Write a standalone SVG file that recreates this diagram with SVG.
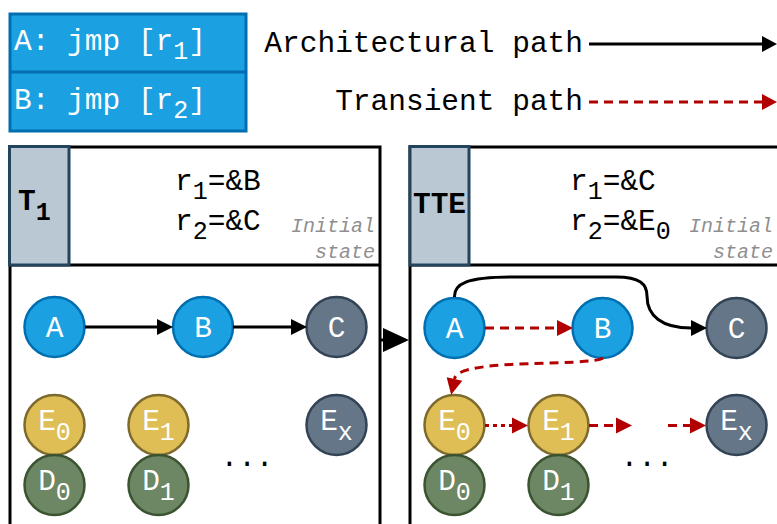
<svg xmlns="http://www.w3.org/2000/svg" width="777" height="524" viewBox="0 0 777 524">
  <style>
    text { font-family: "Liberation Mono", "Courier New", monospace; }
    .lbl { font-size: 29.5px; fill: #000; }
    .wht { font-size: 29.5px; fill: #fff; text-anchor: middle; }
    .note { font-size: 20px; font-style: italic; fill: #8f8f8f; text-anchor: end; }
    .bold { font-weight: bold; font-size: 29.5px; fill: #000; }
    .panel { fill: #fff; stroke: #000; stroke-width: 3; }
    .tag { fill: #bac8d3; stroke: #23445d; stroke-width: 3; }
    .blue { fill: #1ba1e2; stroke: #006eaf; stroke-width: 2.5; }
    .grey { fill: #647687; stroke: #314354; stroke-width: 2.5; }
    .gold { fill: #dfbe56; stroke: #7d6a2e; stroke-width: 2.5; }
    .green { fill: #6d8764; stroke: #3a5431; stroke-width: 2.5; }
    .arch { fill: none; stroke: #000; stroke-width: 3; }
    .trans { fill: none; stroke: #b20000; stroke-width: 3; stroke-dasharray: 9 6; }
    .dotted { fill: none; stroke: #b20000; stroke-width: 3; stroke-dasharray: 4 4; }
  </style>
  <defs>
    <marker id="ahBlack" markerUnits="userSpaceOnUse" markerWidth="16" markerHeight="16" refX="0" refY="8" orient="auto" overflow="visible">
      <path d="M0,0 L16,8 L0,16 Z" fill="#000"/>
    </marker>
    <marker id="ahRed" markerUnits="userSpaceOnUse" markerWidth="16" markerHeight="16" refX="0" refY="8" orient="auto" overflow="visible">
      <path d="M0,0 L16,8 L0,16 Z" fill="#b20000"/>
    </marker>
  </defs>

  <!-- instruction table -->
  <g id="code">
    <rect x="10" y="14" width="236" height="117" fill="#1ba1e2" stroke="#006eaf" stroke-width="3"/>
    <line x1="10" y1="72" x2="246" y2="72" stroke="#006eaf" stroke-width="3"/>
    <text x="14" y="50" class="lbl" style="fill:#fff">A: jmp [r<tspan font-size="25" dy="9">1</tspan><tspan dy="-9">]</tspan></text>
    <text x="14" y="109" class="lbl" style="fill:#fff">B: jmp [r<tspan font-size="25" dy="9">2</tspan><tspan dy="-9">]</tspan></text>
  </g>

  <!-- legend -->
  <g id="legend">
    <text x="583" y="52" class="lbl" text-anchor="end">Architectural path</text>
    <text x="583" y="110" class="lbl" text-anchor="end">Transient path</text>
    <line x1="589" y1="44" x2="762" y2="44" class="arch"/>
    <path d="M762,36 L777,44 L762,52 Z" fill="#000"/>
    <line x1="589" y1="102" x2="762" y2="102" class="trans"/>
    <path d="M762,94 L777,102 L762,110 Z" fill="#b20000"/>
  </g>

  <!-- panel T1 -->
  <g id="panel-t1">
    <rect x="10" y="147" width="370" height="420" class="panel"/>
    <line x1="10" y1="265" x2="380" y2="265" stroke="#000" stroke-width="3"/>
    <rect x="9.5" y="146.5" width="59.5" height="118.5" class="tag"/>
    <text x="18" y="210" class="bold" font-size="28">T<tspan font-size="25" dy="10">1</tspan></text>
    <text x="175" y="190" class="lbl">r<tspan font-size="25" dy="9">1</tspan><tspan dy="-9">=&amp;B</tspan></text>
    <text x="175" y="230" class="lbl">r<tspan font-size="25" dy="9">2</tspan><tspan dy="-9">=&amp;C</tspan></text>
    <text x="375" y="232" class="note">Initial</text>
    <text x="375" y="258" class="note">state</text>
    <text x="247" y="466" class="lbl" text-anchor="middle">...</text>
  </g>

  <!-- panel TTE -->
  <g id="panel-tte">
    <rect x="410" y="147" width="420" height="420" class="panel"/>
    <line x1="410" y1="265" x2="777" y2="265" stroke="#000" stroke-width="3"/>
    <rect x="410" y="146.5" width="59" height="118.5" class="tag"/>
    <text x="439.5" y="213" class="bold" text-anchor="middle">TTE</text>
    <text x="570" y="190" class="lbl">r<tspan font-size="25" dy="9">1</tspan><tspan dy="-9">=&amp;C</tspan></text>
    <text x="570" y="230" class="lbl">r<tspan font-size="25" dy="9">2</tspan><tspan dy="-9">=&amp;E</tspan><tspan font-size="25" dy="9">0</tspan></text>
    <text x="773" y="232" class="note">Initial</text>
    <text x="773" y="258" class="note">state</text>
    <text x="647" y="466" class="lbl" text-anchor="middle">...</text>
  </g>

  <!-- T1 nodes -->
  <g id="t1-A"><circle cx="54.5" cy="327" r="30" class="blue"/><text x="54.5" y="337" class="wht">A</text></g>
  <g id="t1-B"><circle cx="203" cy="327" r="30" class="blue"/><text x="203" y="337" class="wht">B</text></g>
  <g id="t1-C"><circle cx="336.5" cy="327" r="30" class="grey"/><text x="336.5" y="337" class="wht">C</text></g>
  <g id="t1-E0"><circle cx="54.5" cy="425" r="30" class="gold"/><text x="54.5" y="430" class="wht">E<tspan font-size="25" dy="10">0</tspan></text></g>
  <g id="t1-E1"><circle cx="158.5" cy="425" r="30" class="gold"/><text x="158.5" y="430" class="wht">E<tspan font-size="25" dy="10">1</tspan></text></g>
  <g id="t1-Ex"><circle cx="336.5" cy="425" r="30" class="grey"/><text x="336.5" y="430" class="wht">E<tspan font-size="25" dy="10">x</tspan></text></g>
  <g id="t1-D0"><circle cx="54.5" cy="485" r="30" class="green"/><text x="54.5" y="490" class="wht">D<tspan font-size="25" dy="10">0</tspan></text></g>
  <g id="t1-D1"><circle cx="158.5" cy="485" r="30" class="green"/><text x="158.5" y="490" class="wht">D<tspan font-size="25" dy="10">1</tspan></text></g>

  <!-- TTE nodes -->
  <g id="tte-A"><circle cx="454.5" cy="328" r="30" class="blue"/><text x="454.5" y="338" class="wht">A</text></g>
  <g id="tte-B"><circle cx="602.5" cy="328" r="30" class="blue"/><text x="602.5" y="338" class="wht">B</text></g>
  <g id="tte-C"><circle cx="736.5" cy="328" r="30" class="grey"/><text x="736.5" y="338" class="wht">C</text></g>
  <g id="tte-E0"><circle cx="454.5" cy="425" r="30" class="gold"/><text x="454.5" y="430" class="wht">E<tspan font-size="25" dy="10">0</tspan></text></g>
  <g id="tte-E1"><circle cx="558.5" cy="425" r="30" class="gold"/><text x="558.5" y="430" class="wht">E<tspan font-size="25" dy="10">1</tspan></text></g>
  <g id="tte-Ex"><circle cx="736.5" cy="425" r="30" class="grey"/><text x="736.5" y="430" class="wht">E<tspan font-size="25" dy="10">x</tspan></text></g>
  <g id="tte-D0"><circle cx="454.5" cy="485" r="30" class="green"/><text x="454.5" y="490" class="wht">D<tspan font-size="25" dy="10">0</tspan></text></g>
  <g id="tte-D1"><circle cx="558.5" cy="485" r="30" class="green"/><text x="558.5" y="490" class="wht">D<tspan font-size="25" dy="10">1</tspan></text></g>

  <!-- connectors -->
  <g id="connectors">
    <!-- T1 -> TTE -->
    <line x1="381" y1="340" x2="384" y2="340" class="arch"/>
    <path d="M383,328 L409,340 L383,352 Z" fill="#000"/>

    <!-- T1 architectural flow -->
    <line x1="85" y1="327" x2="157" y2="327" class="arch" marker-end="url(#ahBlack)"/>
    <line x1="233" y1="327" x2="291" y2="327" class="arch" marker-end="url(#ahBlack)"/>

    <!-- TTE architectural flow A -> C -->
    <path d="M454.5,297 C454,284 466,277 512,277 L616,277 C640,277 647,284 647,296 C647,316 662,328 691,328" class="arch" marker-end="url(#ahBlack)"/>

    <!-- TTE transient flow -->
    <line x1="485" y1="328" x2="557" y2="328" class="trans" marker-end="url(#ahRed)"/>
    <path d="M603,358 C594,364 530,362 490,366 C466,369 456,372 454.5,379" class="trans" marker-end="url(#ahRed)"/>
    <line x1="485" y1="425.5" x2="512" y2="425.5" class="dotted" marker-end="url(#ahRed)"/>
    <line x1="589" y1="425.5" x2="616" y2="425.5" class="trans" marker-end="url(#ahRed)"/>
    <line x1="668" y1="425.5" x2="690" y2="425.5" class="trans" marker-end="url(#ahRed)"/>
  </g>
</svg>
